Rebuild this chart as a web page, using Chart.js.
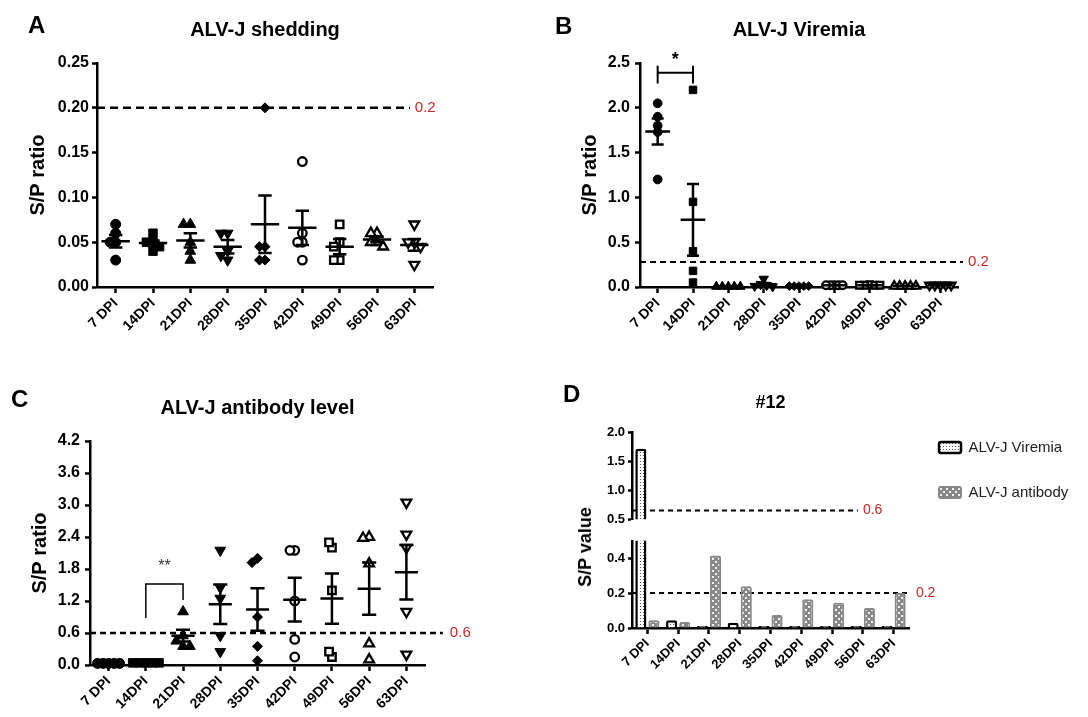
<!DOCTYPE html>
<html>
<head>
<meta charset="utf-8">
<script src="https://cdn.jsdelivr.net/npm/chart.js@4.4.1/dist/chart.umd.min.js"></script>
<style>
  body { margin: 0; background: #fff; }
  #fig { position: relative; width: 1088px; height: 717px; overflow: hidden; background: #fff; font-family: 'Liberation Sans', Arial, sans-serif; }
  #fig canvas { position: absolute; }
  .tag { position: absolute; font-weight: bold; font-size: 24px; line-height: 24px; color: #000; }
  .ytitle { position: absolute; font-weight: bold; font-size: 18px; line-height: 20px; white-space: nowrap; color: #000;
            transform: translate(-50%, -50%) rotate(-90deg); }
</style>
</head>
<body>
<div id="fig">
  <canvas id="cA" width="540" height="345" style="left:0;top:0"></canvas>
  <canvas id="cB" width="548" height="345" style="left:540px;top:0"></canvas>
  <canvas id="cC" width="540" height="347" style="left:0;top:370px"></canvas>
  <canvas id="cD1" width="548" height="160" style="left:540px;top:370px"></canvas>
  <canvas id="cD2" width="548" height="187" style="left:540px;top:530px"></canvas>
  <div class="tag" style="left:28px;top:13px">A</div>
  <div class="tag" style="left:555px;top:14px">B</div>
  <div class="tag" style="left:11px;top:387px">C</div>
  <div class="tag" style="left:563px;top:382px">D</div>
  <div class="ytitle" style="left:585px;top:547px">S/P value</div>
</div>
<script>
Chart.defaults.font.family = "'Liberation Sans', Arial, sans-serif";
Chart.defaults.color = '#000';
Chart.defaults.animation = false;
Chart.defaults.plugins.tooltip.enabled = false;

var dpiLabels = ['7 DPI', '14DPI', '21DPI', '28DPI', '35DPI', '42DPI', '49DPI', '56DPI', '63DPI'];

// A - shedding, 5 birds per time point
var sheddingVals = [
  [0.07, 0.06, 0.05, 0.05, 0.03],
  [0.06, 0.05, 0.05, 0.045, 0.04],
  [0.07, 0.07, 0.05, 0.04, 0.03],
  [0.06, 0.06, 0.04, 0.035, 0.03],
  [0.2, 0.045, 0.045, 0.03, 0.03],
  [0.14, 0.06, 0.05, 0.05, 0.03],
  [0.07, 0.05, 0.045, 0.03, 0.03],
  [0.06, 0.06, 0.05, 0.05, 0.045],
  [0.07, 0.05, 0.05, 0.045, 0.025]
];
var sheddingMean = [0.051, 0.049, 0.052, 0.045, 0.070, 0.066, 0.045, 0.053, 0.047];
var sheddingSem = [0.007, 0.003, 0.008, 0.0075, 0.032, 0.019, 0.0085, 0.003, 0.0065];
var sheddingTicks = [0, 0.05, 0.1, 0.15, 0.2, 0.25];
var sheddingCutoff = 0.2;

// B - viremia
var viremiaVals = [
  [1.9, 1.8, 1.2, 2.05, 1.73],
  [2.2, 0.95, 0.4, 0.18, 0.05],
  [0.005, 0.005, 0.005, 0.005, 0.005],
  [0.09, 0.03, 0.02, 0.01, 0.005],
  [0.01, 0.01, 0.01, 0.01, 0.01],
  [0.02, 0.02, 0.02, 0.02, 0.02],
  [0.025, 0.02, 0.02, 0.02, 0.02],
  [0.01, 0.01, 0.01, 0.01, 0.01],
  [0.02, 0.02, 0.02, 0.02, 0.02]
];
var viremiaMean = [1.735, 0.75, 0.005, 0.03, 0.01, 0.02, 0.02, 0.01, 0.02];
var viremiaSem = [0.145, 0.4, 0.001, 0.015, 0.002, 0.002, 0.002, 0.002, 0.002];
var viremiaTicks = [0, 0.5, 1, 1.5, 2, 2.5];
var viremiaCutoff = 0.28;

// C - antibody
var antibodyVals = [
  [0.03, 0.03, 0.03, 0.03, 0.03],
  [0.04, 0.04, 0.04, 0.04, 0.04],
  [1.0, 0.55, 0.45, 0.35, 0.35],
  [2.15, 1.45, 1.25, 0.55, 0.25],
  [2.0, 1.92, 0.9, 0.35, 0.08],
  [2.15, 2.15, 1.2, 0.48, 0.15],
  [2.2, 2.3, 1.4, 0.15, 0.25],
  [2.4, 2.38, 1.9, 0.4, 0.1],
  [3.05, 2.45, 2.2, 1.0, 0.2]
];
var antibodyMean = [0.03, 0.04, 0.55, 1.14, 1.04, 1.225, 1.245, 1.43, 1.74];
var antibodySem = [0.005, 0.005, 0.11, 0.37, 0.40, 0.41, 0.47, 0.49, 0.51];
var antibodyTicks = [0, 0.6, 1.2, 1.8, 2.4, 3.0, 3.6, 4.2];
var antibodyCutoff = 0.6;

// D - bird #12
var bird12Viremia = [1.72, 0.045, 0.005, 0.03, 0.003, 0.005, 0.003, 0.008, 0.003];
var bird12Antibody = [0.045, 0.035, 0.415, 0.24, 0.075, 0.165, 0.145, 0.115, 0.2];
var bird12TicksHigh = [0.5, 1.0, 1.5, 2.0];
var bird12TicksLow = [0, 0.2, 0.4];
var bird12CutHigh = 0.65;
var bird12CutLow = 0.2;

var RED = '#c62828';

// one marker per time point, GraphPad style
var markers = [
  { style: 'circle', open: false, r: 5 },
  { style: 'rect', open: false, r: 6 },
  { style: 'triangle', open: false, r: 6.2 },
  { style: 'triangle', open: false, r: 6.2, rot: 180 },
  { style: 'rectRot', open: false, r: 5 },
  { style: 'circle', open: true, r: 4.3 },
  { style: 'rect', open: true, r: 5.3 },
  { style: 'triangle', open: true, r: 5.6 },
  { style: 'triangle', open: true, r: 5.6, rot: 180 }
];

// spread overlapping points sideways (pixel space -> category units)
function swarm(vals, pxPerUnit, r, binPx) {
  var placed = [];
  return vals.map(function (v) {
    var py = v * pxPerUnit, px = 0;
    for (var k = 0; k < 14; k++) {
      var cand = (k % 2 ? -1 : 1) * Math.ceil(k / 2) * 0.55 * r;
      var ok = placed.every(function (p) { return Math.hypot(p[0] - cand, p[1] - py) >= 1.1 * r; });
      if (ok) { px = cand; break; }
    }
    placed.push([px, py]);
    return px / binPx;
  });
}

var notesPlugin = {
  id: 'notes',
  afterDatasetsDraw: function (chart, args, opts) {
    var ctx = chart.ctx;
    var xs = chart.scales.x, ys = chart.scales.y;
    (opts.items || []).forEach(function (it) {
      ctx.save();
      ctx.font = it.font;
      ctx.fillStyle = it.color;
      ctx.textAlign = it.align || 'center';
      ctx.textBaseline = 'middle';
      ctx.fillText(it.text, xs.getPixelForValue(it.x) + (it.dx || 0), ys.getPixelForValue(it.y));
      ctx.restore();
    });
  }
};

function axisStyle(tickLen) {
  return {
    grid: { display: true, drawOnChartArea: false, drawTicks: true, tickLength: tickLen, tickWidth: 2.5,
            tickColor: '#000', color: '#000', offset: false },
    border: { display: true, color: '#000', width: 2.5 }
  };
}

function intTicks(s) {
  s.ticks = dpiLabels.map(function (_, i) { return { value: i }; });
}

function dotChart(id, c) {
  var bin = c.plotW / 9;
  var pxU = c.plotH / c.yMax;
  var sets = c.vals.map(function (vals, i) {
    var m = markers[i];
    var r = m.r * c.scale;
    var offs = swarm(vals, pxU, r, bin);
    return {
      type: 'scatter',
      label: dpiLabels[i],
      data: vals.map(function (v, j) { return { x: i + offs[j], y: v }; }),
      pointStyle: m.style,
      pointRotation: m.rot || 0,
      pointRadius: r,
      pointHoverRadius: r,
      pointBackgroundColor: m.open ? '#fff' : '#000',
      pointBorderColor: '#000',
      pointBorderWidth: m.open ? 2.3 : 1,
      clip: false,
      order: 1
    };
  });

  // mean line + SEM whiskers, gaps split the pieces
  var eb = [];
  c.mean.forEach(function (m, i) {
    var lo = m - c.sem[i], hi = m + c.sem[i];
    eb.push({ x: i - c.mw, y: m }, { x: i + c.mw, y: m }, { x: i, y: null },
            { x: i, y: lo }, { x: i, y: hi }, { x: i, y: null },
            { x: i - c.cw, y: hi }, { x: i + c.cw, y: hi }, { x: i, y: null },
            { x: i - c.cw, y: lo }, { x: i + c.cw, y: lo }, { x: i, y: null });
  });
  sets.push({ type: 'line', label: 'mean', data: eb, borderColor: '#000', borderWidth: 2.5,
              pointRadius: 0, spanGaps: false, order: 0 });

  sets.push({ type: 'line', label: 'cutoff', data: [{ x: -0.5, y: c.cutoff }, { x: c.cutEnd, y: c.cutoff }],
              borderColor: '#000', borderWidth: c.dashW, borderDash: c.dash, pointRadius: 0, clip: false, order: 2 });

  if (c.bracket) {
    sets.push({ type: 'line', label: 'bracket', data: c.bracket, borderColor: '#000', borderWidth: c.bracketW,
                pointRadius: 0, spanGaps: false, clip: false, order: 0 });
  }

  var ax = axisStyle(6), ay = axisStyle(5);
  return new Chart(document.getElementById(id), {
    type: 'scatter',
    data: { datasets: sets },
    plugins: [notesPlugin],
    options: {
      responsive: false,
      events: [],
      layout: { padding: c.pad },
      scales: {
        x: {
          type: 'linear', min: -0.5, max: 8.5,
          afterBuildTicks: intTicks,
          afterFit: function (s) { s.height = c.xH; },
          ticks: { callback: function (v) { return dpiLabels[v]; }, autoSkip: false, minRotation: 45, maxRotation: 45,
                   font: { size: 14, weight: 'bold' }, padding: 2, color: '#000' },
          grid: ax.grid, border: ax.border
        },
        y: {
          min: 0, max: c.yMax,
          afterBuildTicks: function (s) { s.ticks = c.ticks.map(function (v) { return { value: v }; }); },
          afterFit: function (s) { s.width = c.yW; },
          ticks: { callback: function (v) { return v.toFixed(c.dec); }, font: { size: 16, weight: 'bold' },
                   padding: c.tickPad, color: '#000' },
          grid: ay.grid, border: ay.border,
          title: { display: true, text: 'S/P ratio', color: '#000', font: { size: 20, weight: 'bold' },
                   padding: { top: c.ytPad, bottom: 0 } }
        }
      },
      plugins: {
        legend: { display: false },
        title: { display: true, text: c.title, fullSize: false, color: '#000',
                 font: { size: 20, weight: 'bold' }, padding: c.titlePad },
        notes: { items: c.notes }
      }
    }
  });
}

dotChart('cA', {
  title: 'ALV-J shedding', vals: sheddingVals, mean: sheddingMean, sem: sheddingSem,
  ticks: sheddingTicks, yMax: 0.25, dec: 2, plotW: 336, plotH: 224, scale: 1,
  yW: 87, xH: 58, pad: { left: 10, top: 5, right: 107, bottom: 0 },
  titlePad: { top: 13, bottom: 21 }, ytPad: 16, tickPad: 3,
  mw: 0.38, cw: 0.18, cutoff: sheddingCutoff, cutEnd: 7.88, dash: [8, 5], dashW: 2.5,
  notes: [{ x: 7.88, dx: 5, y: sheddingCutoff, text: '0.2', color: RED, font: '15px "Liberation Sans", Arial', align: 'left' }]
});

dotChart('cB', {
  title: 'ALV-J Viremia', vals: viremiaVals, mean: viremiaMean, sem: viremiaSem,
  ticks: viremiaTicks, yMax: 2.5, dec: 1, plotW: 318, plotH: 224, scale: 0.88,
  yW: 90, xH: 58, pad: { left: 10, top: 5, right: 130, bottom: 0 },
  titlePad: { top: 13, bottom: 21 }, ytPad: 28, tickPad: 5,
  mw: 0.35, cw: 0.17, cutoff: viremiaCutoff, cutEnd: 8.64, dash: [6, 4], dashW: 2,
  bracket: [{ x: 0, y: 2.27 }, { x: 0, y: 2.47 }, { x: 0, y: null }, { x: 0, y: 2.39 }, { x: 1, y: 2.39 },
            { x: 1, y: null }, { x: 1, y: 2.27 }, { x: 1, y: 2.47 }],
  bracketW: 2,
  notes: [
    { x: 8.64, dx: 5, y: viremiaCutoff, text: '0.2', color: RED, font: '15px "Liberation Sans", Arial', align: 'left' },
    { x: 0.5, y: 2.53, text: '*', color: '#000', font: 'bold 18px "Liberation Sans", Arial' }
  ]
});

dotChart('cC', {
  title: 'ALV-J antibody level', vals: antibodyVals, mean: antibodyMean, sem: antibodySem,
  ticks: antibodyTicks, yMax: 4.2, dec: 1, plotW: 335, plotH: 224, scale: 1,
  yW: 80, xH: 52, pad: { left: 10, top: 5, right: 115, bottom: 0 },
  titlePad: { top: 21, bottom: 21 }, ytPad: 18, tickPad: 5,
  mw: 0.31, cw: 0.19, cutoff: antibodyCutoff, cutEnd: 8.98, dash: [6, 4], dashW: 2.5,
  bracket: [{ x: 1, y: 0.88 }, { x: 1, y: 1.52 }, { x: 2, y: 1.52 }, { x: 2, y: 1.22 }],
  bracketW: 1.5,
  notes: [
    { x: 8.98, dx: 7, y: antibodyCutoff, text: '0.6', color: RED, font: '15px "Liberation Sans", Arial', align: 'left' },
    { x: 1.5, y: 1.84, text: '**', color: '#333', font: '16px "Liberation Sans", Arial' }
  ]
});

// D - fill patterns
function makePattern(w, h, draw) {
  var cv = document.createElement('canvas');
  cv.width = w; cv.height = h;
  var g = cv.getContext('2d');
  draw(g);
  return g.createPattern(cv, 'repeat');
}
var dotFill = makePattern(3, 3, function (g) {
  g.fillStyle = '#fff'; g.fillRect(0, 0, 3, 3);
  g.fillStyle = '#555'; g.fillRect(1, 1, 1, 1);
});
var checkFill = makePattern(6, 6, function (g) {
  g.fillStyle = '#878787'; g.fillRect(0, 0, 6, 6);
  g.fillStyle = '#f2f2f2'; g.fillRect(1, 1, 2, 2); g.fillRect(4, 4, 2, 2);
});

function toXY(arr) {
  return arr.map(function (v, i) { return { x: i, y: v }; });
}

function barSets(low) {
  return [
    { label: 'ALV-J Viremia', data: toXY(bird12Viremia), backgroundColor: dotFill, borderColor: '#000', borderWidth: 2.5,
      borderRadius: 2, minBarLength: low ? 2 : 0, clip: 0, barPercentage: 0.85, categoryPercentage: 0.85 },
    { label: 'ALV-J antibody', data: toXY(bird12Antibody), backgroundColor: checkFill, borderColor: '#878787', borderWidth: 2,
      borderRadius: 2, clip: 0, barPercentage: 0.85, categoryPercentage: 0.85 }
  ];
}

function cutSet(val, end) {
  return { type: 'line', label: 'cutoff', data: [{ x: -0.5, y: val }, { x: end, y: val }],
           borderColor: '#000', borderWidth: 2, borderDash: [5, 4], pointRadius: 0, clip: false };
}

function bird12Scales(low) {
  var ax = axisStyle(6), ay = axisStyle(4);
  var ticks = low ? bird12TicksLow : bird12TicksHigh;
  var x = {
    type: 'linear', min: -0.5, max: 8.5, offset: false,
    afterBuildTicks: intTicks,
    afterFit: function (s) { s.height = low ? 89 : 6; }
  };
  if (low) {
    x.ticks = { callback: function (v) { return dpiLabels[v]; }, autoSkip: false, minRotation: 45, maxRotation: 45,
                font: { size: 13, weight: 'bold' }, padding: 2, color: '#000' };
    x.grid = ax.grid;
    x.border = ax.border;
  } else {
    // empty strip under the upper part
    x.ticks = { display: false };
    x.grid = { display: false, offset: false };
    x.border = { display: false };
  }
  return {
    x: x,
    y: {
      min: low ? 0 : 0.5, max: low ? 0.5 : 2.0,
      afterBuildTicks: function (s) { s.ticks = ticks.map(function (v) { return { value: v }; }); },
      afterFit: function (s) { s.width = 82; },
      ticks: { callback: function (v) { return v.toFixed(1); }, font: { size: 13, weight: 'bold' }, padding: 3, color: '#000' },
      grid: ay.grid, border: ay.border
    }
  };
}

var dUp = new Chart(document.getElementById('cD1'), {
  type: 'bar',
  data: { datasets: barSets(false).concat([cutSet(bird12CutHigh, 6.84)]) },
  plugins: [notesPlugin],
  options: {
    responsive: false,
    events: [],
    layout: { padding: { left: 10, top: 5, right: 10, bottom: 0 } },
    scales: bird12Scales(false),
    plugins: {
      title: { display: true, text: '#12', fullSize: false, color: '#000', font: { size: 18, weight: 'bold' },
               padding: { top: 17, bottom: 19 } },
      legend: {
        position: 'right', align: 'end', fullSize: true, maxWidth: 320,
        labels: { boxWidth: 22, boxHeight: 11, padding: 30, font: { size: 15 }, color: '#222',
                  useBorderRadius: true, borderRadius: 2,
                  filter: function (item) { return item.datasetIndex < 2; } }
      },
      notes: { items: [
        { x: 6.84, dx: 5, y: bird12CutHigh, text: '0.6', color: RED, font: '14px "Liberation Sans", Arial', align: 'left' }
      ] }
    }
  }
});
// keep the upper plot area aligned with the lower one
dUp.options.layout.padding = { left: 10, top: 5, right: 10 + (dUp.chartArea.right - 369), bottom: 0 };
dUp.update();

new Chart(document.getElementById('cD2'), {
  type: 'bar',
  data: { datasets: barSets(true).concat([cutSet(bird12CutLow, 8.53)]) },
  plugins: [notesPlugin],
  options: {
    responsive: false,
    events: [],
    layout: { padding: { left: 10, top: 9, right: 179, bottom: 0 } },
    scales: bird12Scales(true),
    plugins: {
      legend: { display: false },
      notes: { items: [
        { x: 8.53, dx: 6, y: bird12CutLow, text: '0.2', color: RED, font: '14px "Liberation Sans", Arial', align: 'left' }
      ] }
    }
  }
});
</script>
</body>
</html>
